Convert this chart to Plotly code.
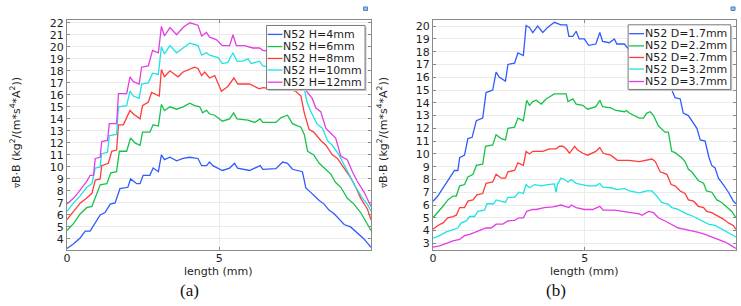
import plotly.graph_objects as go

W, H = 741, 306

# ---------------- data: panel (a) ----------------
names_a = ["N52 H=4mm", "N52 H=6mm", "N52 H=8mm", "N52 H=10mm", "N52 H=12mm"]
colors = ["#2f5bff", "#17c24a", "#ff3b3b", "#1ee3e3", "#e33de3"]

h4_x = [0, 0.22, 0.44, 0.6, 0.76, 0.93, 1.09, 1.25, 1.42, 1.58, 1.74, 2.0, 2.09, 2.29, 2.4, 2.5, 2.72, 2.83, 3.0, 3.1,
        3.2, 3.38, 3.6, 3.81, 4.03, 4.3, 4.42, 4.58, 4.68, 4.79, 5.1, 5.34, 5.5, 5.6, 5.99, 6.34, 6.43, 6.86, 7.08, 7.24,
        7.4, 7.73, 7.84, 7.95, 8.1, 8.28, 8.44, 8.6, 8.77, 8.93, 9.1, 9.31, 9.53, 9.75, 9.98]
h4_y = [3.2, 3.6, 4.1, 4.65, 4.65, 5.3, 6.0, 6.2, 6.9, 7.0, 8.2, 8.3, 9.0, 8.6, 8.6, 9.3, 9.3, 9.9, 9.6, 11.0,
        10.6, 10.8, 10.5, 10.7, 10.8, 10.7, 10.1, 10.1, 10.4, 10.1, 9.7, 9.9, 10.3, 9.9, 9.7, 10.1, 9.8, 9.85, 10.4, 10.3,
        9.8, 9.6, 8.25, 8.0, 7.6, 7.2, 6.9, 6.4, 6.1, 5.7, 5.2, 5.0, 4.5, 4.0, 3.3]

h6_x = [0, 0.22, 0.44, 0.65, 0.82, 0.93, 1.09, 1.31, 1.44, 1.63, 1.72, 1.96, 2.09, 2.23, 2.4, 2.48, 2.72, 2.83, 3.0, 3.1,
        3.2, 3.38, 3.6, 3.81, 4.03, 4.19, 4.36, 4.45, 4.58, 4.68, 4.85, 5.1, 5.34, 5.47, 5.58, 5.94, 6.16, 6.34, 6.43, 6.86,
        7.03, 7.24, 7.4, 7.68, 7.79, 7.9, 8.1, 8.28, 8.5, 8.66, 8.82, 8.99, 9.2, 9.42, 9.64, 9.86, 9.98]
h6_y = [4.7, 5.3, 6.1, 6.6, 6.7, 7.4, 8.5, 8.6, 9.5, 9.6, 11.3, 11.3, 12.4, 12.0, 11.8, 12.9, 12.9, 13.5, 13.4, 15.2,
        14.7, 15.0, 14.8, 15.0, 15.3, 15.1, 15.0, 14.5, 14.7, 14.4, 14.3, 13.8, 14.0, 14.5, 14.0, 13.9, 13.7, 14.0, 13.7, 13.7,
        14.1, 14.3, 13.6, 13.3, 12.7, 11.3, 11.0, 10.3, 9.8, 9.4, 8.7, 8.3, 7.4, 6.9, 6.2, 5.3, 4.7]

h8_x = [0, 0.22, 0.44, 0.65, 0.82, 0.93, 1.09, 1.14, 1.36, 1.47, 1.63, 1.69, 1.85, 2.07, 2.18, 2.4, 2.48, 2.67, 2.78, 3.03,
        3.1, 3.2, 3.38, 3.54, 3.65, 3.81, 4.03, 4.19, 4.3, 4.42, 4.52, 4.68, 4.85, 5.07, 5.28, 5.48, 5.61, 5.99, 6.32, 6.43,
        6.76, 7.2, 7.51, 7.68, 7.79, 7.95, 8.1, 8.33, 8.5, 8.71, 8.88, 9.1, 9.31, 9.48, 9.64, 9.86, 9.98]
h8_y = [5.6, 6.3, 7.0, 7.4, 7.8, 8.9, 9.0, 10.1, 10.3, 11.3, 11.4, 13.5, 13.5, 14.7, 14.4, 14.0, 15.1, 15.4, 16.2, 15.9,
        18.1, 17.5, 18.0, 17.7, 17.5, 17.9, 18.1, 18.3, 18.2, 17.6, 17.9, 17.4, 17.6, 16.3, 16.7, 17.4, 16.9, 16.9, 16.5, 16.6,
        16.5, 16.5, 16.3, 15.9, 14.5, 13.1, 12.9, 12.2, 11.8, 11.0, 10.7, 9.9, 9.1, 8.3, 7.4, 6.5, 5.6]

h10_x = [0, 0.22, 0.44, 0.65, 0.82, 0.93, 1.09, 1.14, 1.33, 1.39, 1.63, 1.69, 1.96, 2.07, 2.18, 2.37, 2.45, 2.67, 2.81, 3.0,
         3.1, 3.2, 3.38, 3.6, 3.81, 4.03, 4.3, 4.42, 4.58, 4.68, 4.96, 5.1, 5.28, 5.45, 5.58, 5.77, 5.94, 6.05, 6.32, 6.43,
         6.65, 7.0, 7.4, 7.75, 7.88, 7.99, 8.2, 8.39, 8.55, 8.71, 8.93, 9.1, 9.31, 9.48, 9.7, 9.86, 9.98]
h10_y = [6.3, 7.0, 7.6, 8.3, 8.6, 9.9, 10.0, 11.1, 11.2, 12.6, 12.7, 15.0, 15.1, 16.3, 15.9, 15.7, 16.9, 17.0, 17.8, 17.7,
         20.0, 19.4, 20.1, 19.5, 19.9, 20.3, 20.1, 19.3, 19.5, 19.3, 19.1, 18.6, 18.7, 19.5, 18.8, 18.8, 19.0, 18.6, 18.8, 18.4,
         18.3, 18.4, 18.0, 17.0, 15.4, 14.7, 13.6, 13.2, 12.2, 11.8, 11.0, 10.2, 9.1, 8.3, 7.4, 6.9, 6.3]

h12_x = [0, 0.22, 0.38, 0.54, 0.65, 0.76, 0.87, 0.93, 1.09, 1.14, 1.33, 1.39, 1.63, 1.69, 1.96, 2.07, 2.18, 2.37, 2.45, 2.67,
         2.81, 3.0, 3.1, 3.2, 3.38, 3.6, 3.81, 4.03, 4.3, 4.42, 4.58, 4.68, 4.9, 5.1, 5.34, 5.45, 5.56, 5.83, 6.1, 6.32,
         6.43, 6.7, 7.0, 7.4, 7.8, 8.05, 8.17, 8.33, 8.5, 8.66, 8.82, 8.99, 9.2, 9.37, 9.53, 9.75, 9.98]
h12_y = [6.9, 7.4, 7.9, 8.4, 8.8, 9.3, 9.3, 10.7, 10.8, 12.1, 12.2, 13.6, 13.6, 16.1, 16.1, 17.5, 17.1, 16.9, 18.3, 18.4,
         19.7, 19.5, 21.7, 20.9, 21.6, 21.0, 21.6, 22.0, 21.8, 20.9, 21.2, 20.8, 20.6, 20.1, 20.1, 21.0, 20.1, 20.1, 19.9, 19.9,
         19.7, 19.6, 19.8, 19.3, 16.5, 15.7, 14.9, 14.6, 13.2, 12.8, 12.4, 10.9, 10.6, 9.6, 8.8, 7.9, 6.7]

# ---------------- data: panel (b) ----------------
names_b = ["N52 D=1.7mm", "N52 D=2.2mm", "N52 D=2.7mm", "N52 D=3.2mm", "N52 D=3.7mm"]

d17_x = [0, 0.16, 0.27, 0.38, 0.49, 0.6, 0.71, 0.82, 0.88, 1.04, 1.15, 1.29, 1.43, 1.64, 1.75, 1.97, 2.08, 2.19, 2.39, 2.47,
         2.69, 2.8, 2.98, 3.07, 3.18, 3.29, 3.45, 3.62, 3.78, 4.0, 4.22, 4.41, 4.48, 4.61, 4.72, 4.82, 4.99, 5.13, 5.37, 5.5,
         5.59, 5.81, 5.98, 6.06, 6.31, 6.45, 6.8, 7.1, 7.4, 7.65, 7.87, 7.98, 8.15, 8.25, 8.42, 8.59, 8.7, 8.81, 8.97, 9.1,
         9.19, 9.3, 9.41, 9.57, 9.74, 9.9, 9.99]
d17_y = [6.3, 6.7, 7.1, 7.5, 7.9, 8.4, 8.7, 8.7, 9.7, 9.9, 11.2, 11.3, 12.6, 12.8, 14.8, 15.0, 16.4, 16.0, 15.7, 17.0,
         17.1, 17.9, 17.7, 20.05, 19.9, 19.5, 20.0, 19.5, 19.9, 20.3, 20.1, 20.1, 19.2, 19.2, 19.6, 19.0, 19.0, 18.5, 18.6, 19.5,
         18.8, 18.7, 19.0, 18.6, 18.6, 18.2, 18.1, 17.9, 17.3, 16.3, 15.1, 14.4, 14.3, 13.2, 13.0, 12.4, 12.0, 11.1, 11.0, 9.7,
         9.1, 8.9, 8.1, 7.6, 7.0, 6.3, 6.1]

d22_x = [0, 0.16, 0.33, 0.49, 0.66, 0.77, 0.88, 1.04, 1.15, 1.32, 1.43, 1.64, 1.73, 1.97, 2.08, 2.25, 2.39, 2.47, 2.69, 2.8,
         2.98, 3.09, 3.18, 3.29, 3.4, 3.57, 3.73, 4.0, 4.39, 4.45, 4.61, 4.72, 4.94, 5.1, 5.37, 5.5, 5.59, 5.86, 6.03, 6.31,
         6.38, 6.47, 6.8, 6.94, 7.05, 7.16, 7.27, 7.43, 7.65, 7.76, 7.87, 7.98, 8.09, 8.2, 8.31, 8.42, 8.53, 8.64, 8.75, 8.92,
         9.02, 9.19, 9.36, 9.52, 9.69, 9.85, 9.99]
d22_y = [5.0, 5.4, 5.9, 6.4, 6.7, 6.7, 7.5, 7.6, 8.2, 8.4, 9.1, 9.2, 10.6, 10.7, 11.5, 11.2, 11.1, 12.0, 12.1, 12.8,
         12.6, 14.2, 13.8, 14.1, 14.2, 13.9, 14.3, 14.7, 14.7, 14.1, 14.3, 13.9, 13.8, 13.5, 13.7, 14.2, 13.7, 13.6, 13.4, 13.3,
         13.4, 13.2, 12.8, 12.8, 13.2, 13.3, 13.0, 12.2, 11.7, 11.7, 10.2, 10.1, 9.9, 9.7, 9.4, 8.8, 8.6, 8.2, 7.9, 7.7,
         7.1, 7.0, 6.4, 6.2, 5.8, 5.5, 5.0]

d27_x = [0, 0.16, 0.33, 0.49, 0.66, 0.77, 0.88, 1.04, 1.15, 1.32, 1.45, 1.64, 1.75, 1.97, 2.08, 2.25, 2.39, 2.47, 2.69, 2.8,
         2.98, 3.07, 3.18, 3.29, 3.4, 3.62, 3.84, 4.06, 4.17, 4.28, 4.39, 4.5, 4.67, 4.77, 4.94, 5.1, 5.37, 5.5, 5.61, 5.86,
         6.08, 6.31, 6.47, 6.8, 7.05, 7.22, 7.33, 7.49, 7.71, 7.85, 7.98, 8.15, 8.31, 8.42, 8.59, 8.75, 8.92, 9.02, 9.19, 9.41,
         9.57, 9.74, 9.9, 9.99]
d27_y = [4.1, 4.4, 4.6, 5.0, 5.1, 5.2, 5.8, 5.8, 6.3, 6.4, 6.8, 6.9, 7.7, 7.8, 8.4, 8.1, 8.1, 8.6, 8.7, 9.3,
         9.1, 10.2, 10.0, 10.2, 10.2, 10.2, 10.4, 10.4, 10.6, 10.6, 10.4, 10.05, 10.6, 10.3, 10.05, 9.9, 10.2, 10.5, 10.05, 9.9,
         9.5, 9.5, 9.5, 9.4, 9.5, 9.6, 9.4, 8.6, 8.4, 7.6, 7.5, 7.1, 6.9, 6.4, 6.3, 5.9, 5.8, 5.5, 5.4, 5.1,
         4.9, 4.6, 4.4, 4.1]

d32_x = [0, 0.22, 0.44, 0.66, 0.82, 0.93, 1.1, 1.21, 1.37, 1.48, 1.7, 1.78, 2.0, 2.08, 2.25, 2.39, 2.47, 2.69, 2.83, 2.98,
         3.07, 3.18, 3.35, 3.57, 3.78, 4.0, 4.06, 4.1, 4.22, 4.33, 4.45, 4.56, 4.72, 4.94, 5.1, 5.37, 5.5, 5.59, 5.86, 6.08,
         6.31, 6.47, 6.8, 7.05, 7.22, 7.38, 7.54, 7.76, 7.87, 8.04, 8.2, 8.37, 8.59, 8.75, 8.92, 9.08, 9.3, 9.52, 9.74, 9.99]
d32_y = [3.4, 3.6, 3.9, 4.1, 4.2, 4.6, 4.75, 5.1, 5.1, 5.5, 5.6, 6.1, 6.1, 6.4, 6.3, 6.2, 6.6, 6.6, 7.0, 6.9,
         7.6, 7.35, 7.6, 7.5, 7.6, 7.65, 7.0, 7.6, 8.1, 8.0, 7.8, 8.0, 7.7, 7.55, 7.5, 7.5, 7.7, 7.4, 7.35, 7.2,
         7.3, 7.1, 6.95, 7.1, 7.1, 6.7, 6.2, 6.05, 5.8, 5.7, 5.5, 5.3, 5.1, 4.9, 4.75, 4.5, 4.4, 4.1, 3.85, 3.5]

d37_x = [0, 0.22, 0.44, 0.66, 0.88, 1.04, 1.21, 1.37, 1.54, 1.75, 1.92, 2.08, 2.3, 2.47, 2.69, 2.83, 2.98, 3.09, 3.29, 3.4,
         3.67, 3.95, 4.22, 4.39, 4.48, 4.56, 4.72, 4.99, 5.26, 5.5, 5.61, 5.98, 6.25, 6.47, 6.8, 6.89, 7.11, 7.27, 7.43, 7.65,
         7.87, 8.09, 8.31, 8.53, 8.75, 8.97, 9.19, 9.41, 9.63, 9.85, 9.99]
d37_y = [2.7, 2.8, 3.0, 3.2, 3.3, 3.6, 3.7, 3.85, 4.0, 4.2, 4.2, 4.5, 4.5, 4.75, 4.8, 5.0, 5.0, 5.5, 5.65, 5.65,
         5.8, 5.85, 6.0, 5.9, 5.8, 6.0, 5.8, 5.65, 5.65, 5.9, 5.6, 5.6, 5.5, 5.4, 5.3, 5.2, 5.5, 5.4, 5.0, 4.75,
         4.5, 4.2, 4.1, 4.0, 3.85, 3.7, 3.5, 3.3, 3.1, 2.8, 2.6]

x_ticks = [0, 5]
x_tick_text = ["0", "5"]
y_title = ("<span style='font-size:7px'>∇</span>B·B (kg<sup>2</sup>/(m*s<sup>4</sup>*A<sup>2</sup>))")
x_title = "length (mm)"
panel_labels = ["(a)", "(b)"]

series_a = [(h4_x, h4_y), (h6_x, h6_y), (h8_x, h8_y), (h10_x, h10_y), (h12_x, h12_y)]
series_b = [(d17_x, d17_y), (d22_x, d22_y), (d27_x, d27_y), (d32_x, d32_y), (d37_x, d37_y)]

# ---------------- figure ----------------
fig = go.Figure()
for (xs, ys), nm, c in zip(series_a, names_a, colors):
    fig.add_trace(go.Scatter(x=xs, y=ys, name=nm, mode="lines", line=dict(color=c, width=1.3),
                             xaxis="x", yaxis="y", showlegend=False))
for (xs, ys), nm, c in zip(series_b, names_b, colors):
    fig.add_trace(go.Scatter(x=xs, y=ys, name=nm, mode="lines", line=dict(color=c, width=1.3),
                             xaxis="x2", yaxis="y2", showlegend=False))


def px(x):
    return x / W


def py(y):
    return 1 - y / H


FONT = "DejaVu Sans"
AX = "#8a8a8a"
GRID = "#ebebeb"
TICKF = dict(family=FONT, size=11, color="#1e1e1e")

ydom = [py(249.3), py(17.3)]
common_x = dict(showline=True, linecolor=AX, linewidth=1, mirror="ticks", ticks="inside", ticklen=3,
                tickcolor=AX, tickvals=x_ticks, ticktext=x_tick_text, showgrid=True, gridcolor=GRID,
                zeroline=False, tickfont=TICKF, range=[0, 9.99], ticklabelstandoff=-2)
common_y = dict(showline=True, linecolor=AX, linewidth=1, mirror="ticks", ticks="inside", ticklen=3,
                tickcolor=AX, dtick=1, showgrid=True, gridcolor=GRID, zeroline=False, tickfont=TICKF,
                domain=ydom)

fig.update_layout(
    width=W, height=H, margin=dict(l=0, r=0, t=0, b=0),
    paper_bgcolor="white", plot_bgcolor="white",
    font=dict(family=FONT, size=11, color="#1e1e1e"),
    xaxis=dict(domain=[px(63.3), px(369.3)], anchor="y", **common_x),
    yaxis=dict(anchor="x", range=[3.09, 22.22], tick0=4, **common_y),
    xaxis2=dict(domain=[px(431.3), px(736)], anchor="y2", **common_x),
    yaxis2=dict(anchor="x2", range=[2.49, 20.47], tick0=3, **common_y),
)

shapes = []
annotations = []

# axis titles and panel labels
for cx, tx, lbl in [(216, 12, panel_labels[0]), (584, 381, panel_labels[1])]:
    annotations.append(dict(text=x_title, x=px(cx), y=py(271), xref="paper", yref="paper",
                            xanchor="center", yanchor="middle", showarrow=False,
                            font=dict(family=FONT, size=11, color="#1e1e1e")))
    annotations.append(dict(text=y_title, x=px(tx), y=py(131), xref="paper", yref="paper",
                            xanchor="center", yanchor="middle", showarrow=False, textangle=-90,
                            font=dict(family=FONT, size=11, color="#1e1e1e")))
    annotations.append(dict(text=lbl, x=px(cx - 29), y=py(290), xref="paper", yref="paper",
                            xanchor="center", yanchor="middle", showarrow=False,
                            font=dict(family="Liberation Serif", size=17, color="#111")))

# manual legends (compact, like the original)
legends = [
    (names_a, 264, 363, 22.7, 87.3, [31.7, 44, 56, 67.7, 80], 265, 280),
    (names_b, 627.5, 730.7, 22.0, 87.3, [31, 43.3, 55, 66.7, 79.3], 628.5, 643.5),
]
for nms, x0, x1, y0, y1, ycs, l0, l1 in legends:
    shapes.append(dict(type="rect", xref="paper", yref="paper", x0=px(x0 + 1.5), x1=px(x1 + 1.5),
                       y0=py(y1 + 1.5), y1=py(y0 + 1.5), line=dict(width=0), fillcolor="#c8c8c8", layer="above"))
    shapes.append(dict(type="rect", xref="paper", yref="paper", x0=px(x0), x1=px(x1),
                       y0=py(y1), y1=py(y0), line=dict(color="#7a7a7a", width=1), fillcolor="white", layer="above"))
    for nm, c, yc in zip(nms, colors, ycs):
        shapes.append(dict(type="line", xref="paper", yref="paper", x0=px(l0), x1=px(l1),
                           y0=py(yc), y1=py(yc), line=dict(color=c, width=1.3), layer="above"))
        annotations.append(dict(text=nm, x=px(l1 - 1), y=py(yc), xref="paper", yref="paper",
                                xanchor="left", yanchor="middle", showarrow=False,
                                font=dict(family=FONT, size=11, color="#1e1e1e")))

# small toolbar icons at top right of each panel
for ix in [361.5, 731.0]:
    shapes.append(dict(type="rect", xref="paper", yref="paper", x0=px(ix), x1=px(ix + 4),
                       y0=py(7.5), y1=py(4), line=dict(color="#4a7fc8", width=1), fillcolor="#9cc2ea", layer="above"))

fig.update_layout(shapes=shapes, annotations=annotations)
fig.write_html("out.html")
